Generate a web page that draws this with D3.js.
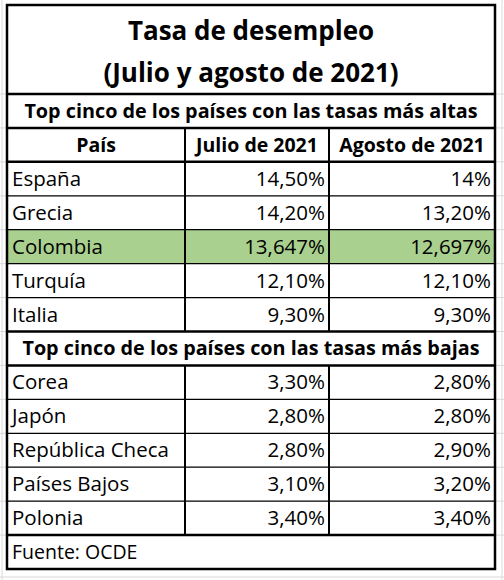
<!DOCTYPE html>
<html><head><meta charset="utf-8">
<script src="https://cdn.jsdelivr.net/npm/d3@7"></script>
<style>body{margin:0;background:#fff}text{font-family:"Open Sans",Lato,sans-serif;fill:#000}</style>
</head><body><svg id="c" width="504" height="580"></svg>
<script>
// Data
let titulo = ["Tasa de desempleo", "(Julio y agosto de 2021)"]
let encabezados = ["País", "Julio de 2021", "Agosto de 2021"]
let grupoAlto = "Top cinco de los países con las tasas más altas"
let grupoBajo = "Top cinco de los países con las tasas más bajas"
let paisesAltos = ["España", "Grecia", "Colombia", "Turquía", "Italia"]
let julioAltos = ["14,50%", "14,20%", "13,647%", "12,10%", "9,30%"]
let agostoAltos = ["14%", "13,20%", "12,697%", "12,10%", "9,30%"]
let paisesBajos = ["Corea", "Japón", "República Checa", "Países Bajos", "Polonia"]
let julioBajos = ["3,30%", "2,80%", "2,80%", "3,10%", "3,40%"]
let agostoBajos = ["2,80%", "2,80%", "2,90%", "3,20%", "3,40%"]
let fuente = "Fuente: OCDE"
let destacado = "Colombia"

let svg = d3.select("#c")
let L = 7, R = 495, c1 = 185, c2 = 329
let rows = ["sub1", "head"].concat(paisesAltos.map((d, i) => "a" + i), ["sub2"], paisesBajos.map((d, i) => "b" + i), ["src"])
let y = d3.scaleBand().domain(rows).range([94, 569])
let h = y.bandwidth()

// faint excel gridlines
let g = svg.append("g").attr("stroke", "#d9d9d9")
g.append("line").attr("x1", 2).attr("x2", 2).attr("y1", 0).attr("y2", 580)
g.append("line").attr("x1", 502).attr("x2", 502).attr("y1", 0).attr("y2", 580)
g.append("line").attr("x1", 0).attr("x2", 504).attr("y1", 577).attr("y2", 577)
rows.forEach(r => {
  g.append("line").attr("x1", 0).attr("x2", L).attr("y1", y(r)).attr("y2", y(r))
  g.append("line").attr("x1", R).attr("x2", 504).attr("y1", y(r)).attr("y2", y(r))
})

// highlight
let hi = paisesAltos.indexOf(destacado)
svg.append("rect").attr("x", L).attr("y", y("a" + hi)).attr("width", R - L).attr("height", h).attr("fill", "#a9d08e")

let line = (x1, y1, x2, y2, w) => svg.append("line").attr("x1", x1).attr("y1", y1).attr("x2", x2).attr("y2", y2)
  .attr("stroke", "#000").attr("stroke-width", w)

// title
titulo.forEach((t, i) => svg.append("text").attr("x", (L + R) / 2).attr("y", 40 + i * 42)
  .attr("text-anchor", "middle").attr("font-size", 26).attr("font-weight", "bold").text(t))

let txt = (x, r, t, anchor, bold, size) => svg.append("text").attr("x", x).attr("y", y(r) + h / 2 + 7)
  .attr("text-anchor", anchor).attr("font-size", size || 20.5).attr("font-weight", bold ? "bold" : null).text(t)

txt((L + R) / 2, "sub1", grupoAlto, "middle", true, 19.8)
txt((L + R) / 2, "sub2", grupoBajo, "middle", true, 19.8)
encabezados.forEach((t, i) => txt([(L + c1) / 2, (c1 + c2) / 2, (c2 + R) / 2][i], "head", t, "middle", true, 19.5))
paisesAltos.forEach((p, i) => {
  txt(L + 5, "a" + i, p, "start"); txt(c2 - 4, "a" + i, julioAltos[i], "end"); txt(R - 4, "a" + i, agostoAltos[i], "end")
})
paisesBajos.forEach((p, i) => {
  txt(L + 5, "b" + i, p, "start"); txt(c2 - 4, "b" + i, julioBajos[i], "end"); txt(R - 4, "b" + i, agostoBajos[i], "end")
})
txt(L + 5, "src", fuente, "start", false, 19.5)

// grid lines inside data blocks
rows.forEach((r, i) => {
  let thick = ["sub1", "head", "a0", "sub2", "b0", "src"].includes(r)
  line(L, y(r), R, y(r), thick ? 2.5 : 1.2)
})
;[["head", "a4"], ["b0", "b4"]].forEach(([a, b]) => {
  ;[c1, c2].forEach(x => line(x, y(a), x, y(b) + h, 2))
})
svg.append("rect").attr("x", L).attr("y", 5).attr("width", R - L).attr("height", 564)
  .attr("fill", "none").attr("stroke", "#000").attr("stroke-width", 2.5)
</script></body></html>
